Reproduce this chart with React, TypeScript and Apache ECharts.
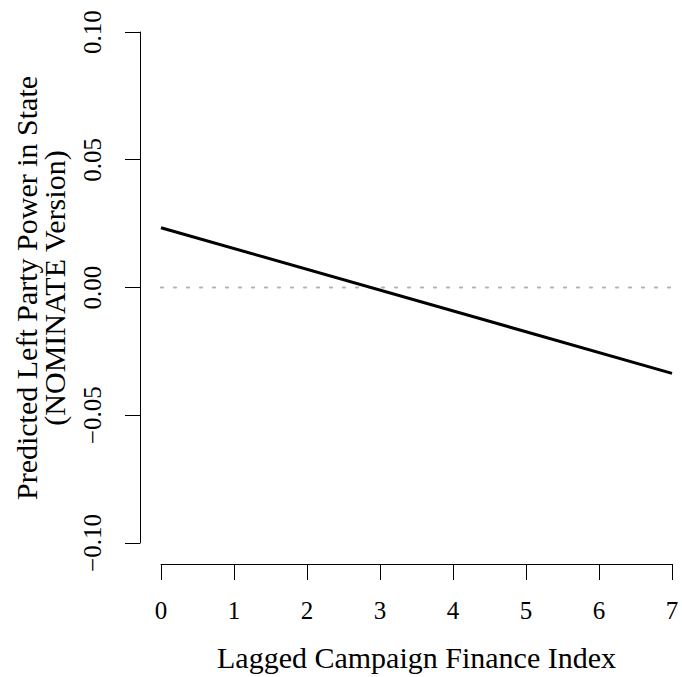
import React, { useEffect, useRef } from "react";
import * as echarts from "echarts";

const lineX = [0, 7];
const lineY = [0.0234, -0.0336];
const refX = [0, 7];
const refY = [0, 0];
const xTicks = [0, 1, 2, 3, 4, 5, 6, 7];
const yTitle1 = "Predicted Left Party Power in State";
const yTitle2 = "(NOMINATE Version)";
const xTitle = "Lagged Campaign Finance Index";

const FONT = "'Liberation Serif', 'Times New Roman', Times, serif";

export default function App() {
  const ref = useRef<HTMLDivElement>(null);
  useEffect(() => {
    const chart = echarts.init(ref.current!, null, { renderer: "svg" });
    chart.setOption({
      animation: false,
      backgroundColor: "#ffffff",
      grid: { left: 161, right: 10, top: 32, bottom: 134, containLabel: false },
      xAxis: {
        type: "value",
        min: 0,
        max: 7,
        interval: 1,
        offset: 21,
        axisLine: { show: true, onZero: false, lineStyle: { color: "#000", width: 1 } },
        axisTick: { show: true, length: 16, inside: false, lineStyle: { color: "#000", width: 1 } },
        axisLabel: {
          margin: 34,
          fontFamily: FONT,
          fontSize: 25,
          color: "#000",
          formatter: (v: number) => (xTicks.includes(v) ? String(v) : ""),
        },
        splitLine: { show: false },
      },
      yAxis: {
        type: "value",
        min: -0.1,
        max: 0.1,
        interval: 0.05,
        offset: 21,
        axisLine: { show: true, onZero: false, lineStyle: { color: "#000", width: 1 } },
        axisTick: { show: true, length: 15, inside: false, lineStyle: { color: "#000", width: 1 } },
        axisLabel: {
          rotate: 90,
          margin: 35,
          fontFamily: FONT,
          fontSize: 25,
          color: "#000",
          formatter: (v: number) => {
            const s = Math.abs(v).toFixed(2);
            return v < -1e-9 ? "\u2212" + s : s;
          },
        },
        splitLine: { show: false },
      },
      series: [
        {
          type: "line",
          data: refX.map((x, i) => [x, refY[i]]),
          showSymbol: false,
          symbol: "none",
          lineStyle: { color: "#b3b3b3", width: 2.2, type: [2, 11], cap: "round" },
          z: 1,
        },
        {
          type: "line",
          data: lineX.map((x, i) => [x, lineY[i]]),
          showSymbol: false,
          symbol: "none",
          lineStyle: { color: "#000", width: 3 },
          z: 2,
        },
      ],
      graphic: [
        {
          type: "text",
          x: 26,
          y: 288,
          rotation: Math.PI / 2,
          style: { text: yTitle1, font: `30px ${FONT}`, fill: "#000", textAlign: "center", textVerticalAlign: "middle" },
        },
        {
          type: "text",
          x: 54,
          y: 288,
          rotation: Math.PI / 2,
          style: { text: yTitle2, font: `30px ${FONT}`, fill: "#000", textAlign: "center", textVerticalAlign: "middle" },
        },
        {
          type: "text",
          x: 416.5,
          y: 657,
          style: { text: xTitle, font: `30px ${FONT}`, fill: "#000", textAlign: "center", textVerticalAlign: "middle" },
        },
      ],
    });
    return () => chart.dispose();
  }, []);
  return <div ref={ref} style={{ position: "absolute", left: 0, top: 0, width: 682, height: 677 }} />;
}
